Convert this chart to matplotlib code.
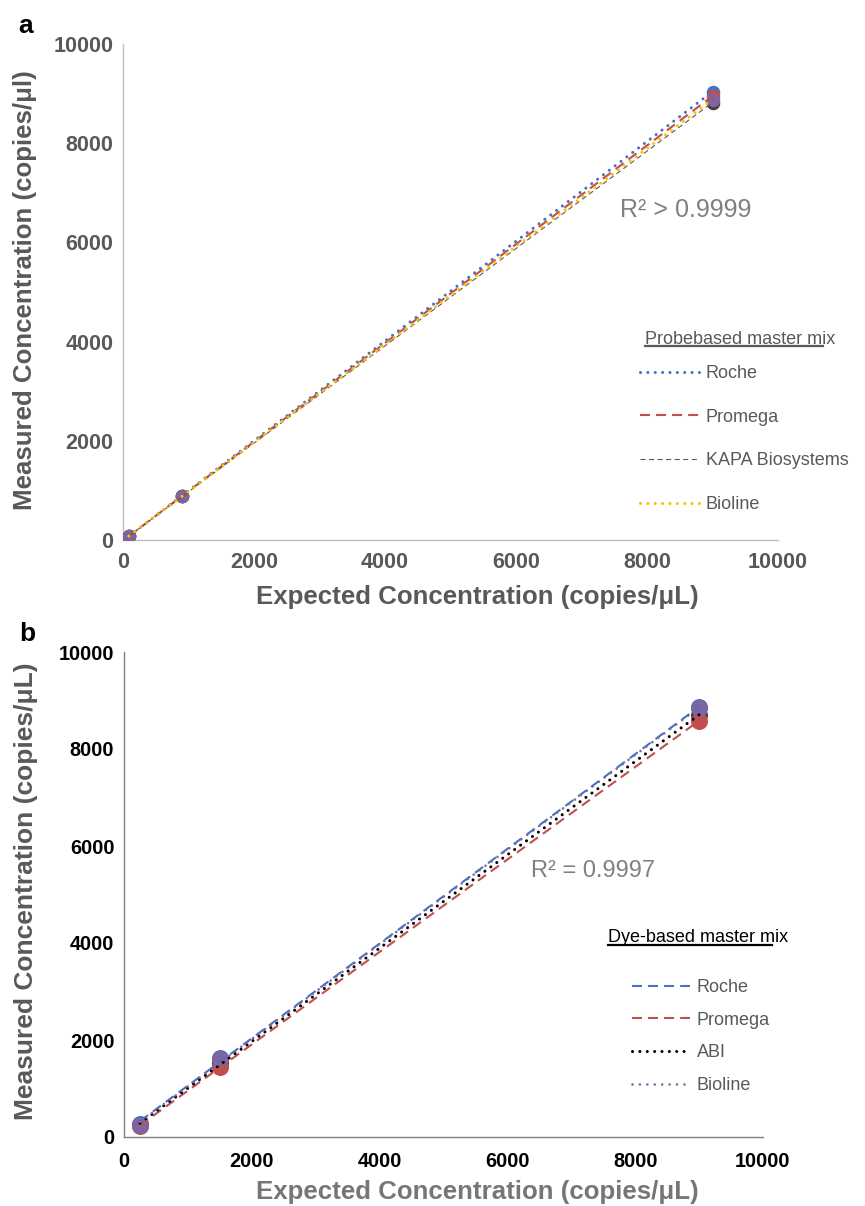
import numpy as np
import matplotlib
matplotlib.use('Agg')
import matplotlib.pyplot as plt
from matplotlib.lines import Line2D

plt.rcParams['font.family'] = ['Liberation Sans', 'DejaVu Sans']

W, H = 865, 1206

# ---------------- data ----------------
ticks = [0, 2000, 4000, 6000, 8000, 10000]

probe_expected = [90, 900, 9000]
probe_names = ['Roche', 'Promega', 'KAPA Biosystems', 'Bioline']
probe_roche = [80, 890, 9040]
probe_promega = [80, 885, 8950]
probe_kapa = [75, 878, 8820]
probe_bioline = [78, 882, 8880]

dye_expected = [250, 1500, 9000]
dye_names = ['Roche', 'Promega', 'ABI', 'Bioline']
dye_roche = [265, 1620, 8860]
dye_promega = [225, 1450, 8580]
dye_abi = [250, 1530, 8700]
dye_bioline = [255, 1600, 8845]

# ---------------- styles ----------------
BLUE = '#4472C4'
RED = '#C0504D'
DGRAY = '#404040'
YELLOW = '#FFC000'
PURPLE = '#8064A2'

probe_styles = [
    dict(color=BLUE, lw=2.2, dashes=[0.01, 2.4], cap='round', mcolor=BLUE),
    dict(color=RED, lw=1.5, dashes=[4.8, 2.9], cap='butt', mcolor=RED),
    dict(color='#595959', lw=0.8, dashes=[4.5, 3.2], cap='butt', mcolor=DGRAY),
    dict(color=YELLOW, lw=2.2, dashes=[0.01, 2.4], cap='round', mcolor=PURPLE),
]
probe_marker_order = [0, 1, 2, 3]

dye_styles = [
    dict(color=BLUE, lw=1.5, dashes=[4.8, 2.9], cap='butt', mcolor=BLUE),
    dict(color=RED, lw=1.5, dashes=[4.8, 2.9], cap='butt', mcolor=RED),
    dict(color='black', lw=2.2, dashes=[0.01, 2.4], cap='round', mcolor=DGRAY),
    dict(color=PURPLE, lw=1.9, dashes=[0.01, 2.8], cap='round', mcolor=PURPLE),
]
dye_marker_order = [0, 2, 1, 3]

fig = plt.figure(figsize=(W / 100, H / 100), dpi=100)


def add_axes_px(l, t, r, b):
    return fig.add_axes([l / W, 1 - b / H, (r - l) / W, (b - t) / H])


def setup_axes(ax, spine_color, tick_color, tick_size, xpad, ypad):
    ax.set_xlim(0, 10000)
    ax.set_ylim(0, 10000)
    ax.set_xticks(ticks)
    ax.set_yticks(ticks)
    ax.set_xticklabels([str(t) for t in ticks])
    ax.set_yticklabels([str(t) for t in ticks])
    for s in ['top', 'right']:
        ax.spines[s].set_visible(False)
    for s in ['left', 'bottom']:
        ax.spines[s].set_color(spine_color)
        ax.spines[s].set_linewidth(1.0)
    ax.tick_params(axis='both', length=0, colors=tick_color, labelsize=tick_size)
    ax.tick_params(axis='x', pad=xpad)
    ax.tick_params(axis='y', pad=ypad)
    for lab in ax.get_xticklabels() + ax.get_yticklabels():
        lab.set_fontweight('bold')
    ax.set_facecolor('none')


def draw_series(ax, x, ys, styles, order, msize):
    lines = []
    for y, st in zip(ys, styles):
        coef = np.polyfit(x, y, 1)
        xs = np.array([min(x), max(x)], dtype=float)
        ln, = ax.plot(xs, np.polyval(coef, xs), color=st['color'], lw=st['lw'],
                      zorder=4)
        ln.set_dashes(st['dashes'])
        ln.set_dash_capstyle(st['cap'])
        lines.append(ln)
    for i in order:
        ax.scatter(x, ys[i], s=msize, color=styles[i]['mcolor'], zorder=3,
                   linewidths=0)
    return lines


# ---------------- panel a ----------------
axa = add_axes_px(123, 44, 778, 540)
setup_axes(axa, '#BFBFBF', '#595959', 15.5, 9, 7)
la = draw_series(axa, probe_expected,
                 [probe_roche, probe_promega, probe_kapa, probe_bioline],
                 probe_styles, probe_marker_order, 95)

leg_a = axa.legend(la, probe_names, loc='upper left',
                   bbox_to_anchor=(640 / W, 1 - 365 / H),
                   bbox_transform=fig.transFigure, frameon=False, fontsize=13,
                   handlelength=3.27, handletextpad=0.38, labelspacing=1.48,
                   borderpad=0, borderaxespad=0)
for t in leg_a.get_texts():
    t.set_color('#595959')

fig.text(477 / W, 1 - 597 / H, 'Expected Concentration (copies/\u03bcL)',
         ha='center', va='center', fontsize=18.6, fontweight='bold', color='#595959')
fig.text(25 / W, 1 - 290 / H, 'Measured Concentration (copies/\u03bcl)',
         ha='center', va='center', rotation=90, fontsize=18.6, fontweight='bold',
         color='#595959')
fig.text(26 / W, 1 - 26 / H, 'a', ha='center', va='center', fontsize=19,
         fontweight='bold', color='black')
fig.text(686 / W, 1 - 210 / H, 'R\u00b2 > 0.9999', ha='center', va='center',
         fontsize=18, color='#808080')
title_a = fig.text(645 / W, 1 - 339 / H, 'Probebased master mix', ha='left',
                   va='center', fontsize=13, color='#595959')

# ---------------- panel b ----------------
axb = add_axes_px(124, 652, 763, 1137)
setup_axes(axb, '#808080', 'black', 14.3, 11, 7)
lb = draw_series(axb, dye_expected,
                 [dye_roche, dye_promega, dye_abi, dye_bioline],
                 dye_styles, dye_marker_order, 150)

leg_b = axb.legend(lb, dye_names, loc='upper left',
                   bbox_to_anchor=(632 / W, 1 - 979 / H),
                   bbox_transform=fig.transFigure, frameon=False, fontsize=13,
                   handlelength=3.2, handletextpad=0.38, labelspacing=0.87,
                   borderpad=0, borderaxespad=0)
for t in leg_b.get_texts():
    t.set_color('#595959')

fig.text(477 / W, 1 - 1192 / H, 'Expected Concentration (copies/\u03bcL)',
         ha='center', va='center', fontsize=18.6, fontweight='bold', color='#767676')
fig.text(26 / W, 1 - 891 / H, 'Measured Concentration (copies/\u03bcL)',
         ha='center', va='center', rotation=90, fontsize=19, fontweight='bold',
         color='#595959')
fig.text(27 / W, 1 - 634 / H, 'b', ha='center', va='center', fontsize=19,
         fontweight='bold', color='black')
fig.text(593 / W, 1 - 871 / H, 'R\u00b2 = 0.9997', ha='center', va='center',
         fontsize=17, color='#808080')
title_b = fig.text(608 / W, 1 - 937.7 / H, 'Dye-based master mix', ha='left',
                   va='center', fontsize=13, color='black')

# underline the legend titles
fig.canvas.draw()
renderer = fig.canvas.get_renderer()
inv = fig.transFigure.inverted()
for t, col, frac in [(title_a, '#595959', 0.935), (title_b, 'black', 0.91)]:
    bb = t.get_window_extent(renderer)
    y = bb.y0 + 1.5
    p0 = inv.transform((bb.x0, y))
    p1 = inv.transform((bb.x0 + frac * bb.width, y))
    fig.add_artist(Line2D([p0[0], p1[0]], [p0[1], p1[1]], color=col, lw=1.6,
                          transform=fig.transFigure))

fig.savefig('out.png', dpi=100, facecolor='white')
